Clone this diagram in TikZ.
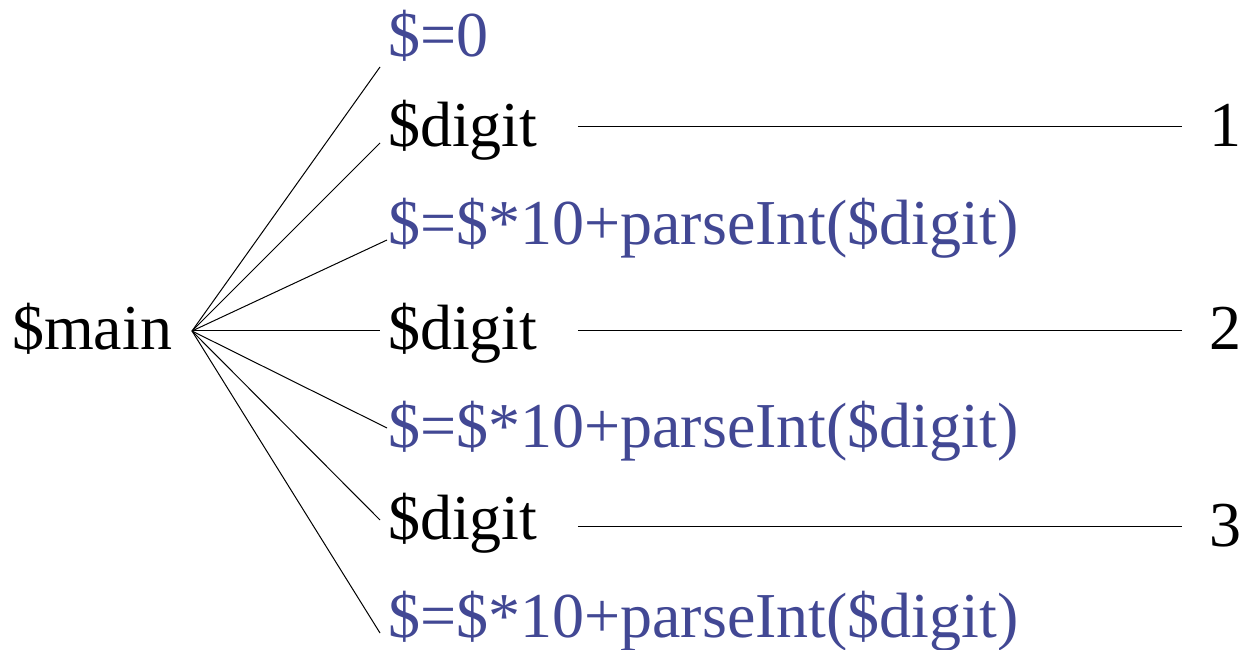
\documentclass[tikz,border=0pt]{standalone}
\usepackage{fontspec}
\newfontfamily\timesfont{Liberation Serif}
\usepackage{tikz}

\definecolor{actblue}{RGB}{66,72,148}
\tikzset{
    word/.style = {inner sep = 0pt , anchor = base west , font = \timesfont\fontsize{64}{70}\selectfont},
    act/.style = {word , text = actblue},
    twig/.style = {line width = 1pt}
}

\begin{document}
\begin{tikzpicture}[x = 1pt , y = 1pt]
    \useasboundingbox (0,0) rectangle (1245,650);

    \node[word] (main) at (12,300) {\$main};
    \coordinate (hub) at (192,319); % where the branches meet

    \node[act]  (r1) at (388,593) {\$=0};
    \node[word] (r2) at (388,503) {\$digit};
    \node[act]  (r3) at (388,405) {\$=\$*10+parseInt(\$digit)};
    \node[word] (r4) at (388,300) {\$digit};
    \node[act]  (r5) at (388,202) {\$=\$*10+parseInt(\$digit)};
    \node[word] (r6) at (388,110) {\$digit};
    \node[act]  (r7) at (388,12)  {\$=\$*10+parseInt(\$digit)};

    \node[word] (n1) at (1209,503) {1};
    \node[word] (n2) at (1209,300) {2};
    \node[word] (n3) at (1209,103) {3};

    % branches of $main
    \foreach \r/\dx/\dy in {r1/-8/-10 , r2/-8/4 , r3/-1/5 , r4/-8/19 , r5/-1/20 , r6/-8/20 , r7/-8/5}
        \draw[twig] (hub) -- ([xshift = \dx pt , yshift = \dy pt]\r.base west);

    % each $digit to its character
    \foreach \r/\n/\da/\db in {r2/n1/20/20 , r4/n2/19/19 , r6/n3/13/20}
        \draw[twig] ([xshift = 40pt , yshift = \da pt]\r.base east) -- ([xshift = -27pt , yshift = \db pt]\n.base west);
\end{tikzpicture}
\end{document}
